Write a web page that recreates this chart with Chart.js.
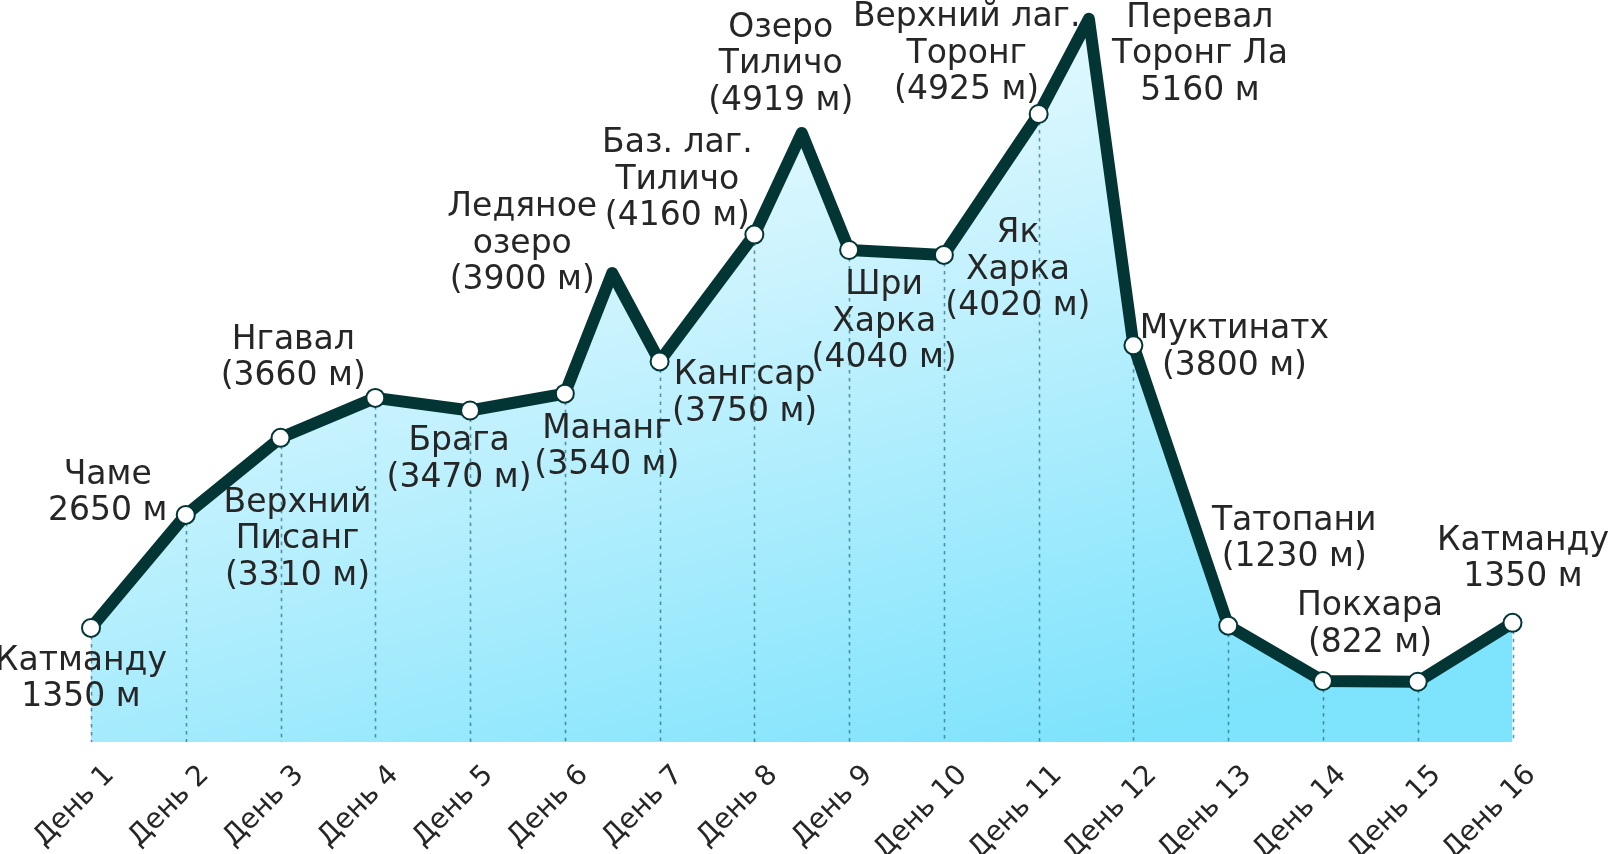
<!DOCTYPE html>
<html>
<head>
<meta charset="utf-8">
<script src="https://cdn.jsdelivr.net/npm/chart.js@4.4.1/dist/chart.umd.min.js"></script>
<style>
html,body{margin:0;padding:0;background:#ffffff;}
#wrap{width:1608px;height:854px;position:relative;}
</style>
</head>
<body>
<div id="wrap"><canvas id="c"></canvas></div>
<script>
// ---- data ----
const dayTicks = ['День 1','День 2','День 3','День 4','День 5','День 6','День 7','День 8',
                  'День 9','День 10','День 11','День 12','День 13','День 14','День 15','День 16'];
// trek stops (days, with intermediate side-trip / pass peaks between days)
const stopDay = [1, 2, 3, 4, 5, 6, 6.5, 7, 8, 8.5, 9, 10, 11, 11.53, 12, 13, 14, 15, 16];
// drawn profile height of each stop (schematic, metres)
const profileHeight = [814, 1620, 2170, 2455, 2365, 2485, 3345, 2715, 3620, 4345, 3510, 3475, 4480, 5160, 2830, 830, 435, 430, 850];
// place labels of each stop (null = no label)
const placeNames = [
  ['Катманду', '1350 м'],
  ['Чаме', '2650 м'],
  ['Верхний', 'Писанг', '(3310 м)'],
  ['Нгавал', '(3660 м)'],
  ['Брага', '(3470 м)'],
  ['Мананг', '(3540 м)'],
  ['Ледяное', 'озеро', '(3900 м)'],
  ['Кангсар', '(3750 м)'],
  ['Баз. лаг.', 'Тиличо', '(4160 м)'],
  ['Озеро', 'Тиличо', '(4919 м)'],
  ['Шри', 'Харка', '(4040 м)'],
  ['Як', 'Харка', '(4020 м)'],
  ['Верхний лаг.', 'Торонг', '(4925 м)'],
  ['Перевал', 'Торонг Ла', '5160 м'],
  ['Муктинатх', '(3800 м)'],
  ['Татопани', '(1230 м)'],
  ['Покхара', '(822 м)'],
  null,
  ['Катманду', '1350 м']
];
// ---- label placement (offset of label centre / first baseline from its point) ----
const labelPlacement = [
  [-10, 42], [-78, -31], [17, 74], [-82, -49], [-11, 40], [42, 44], [-90, -57],
  [85, 23], [-77, -82.5], [-21, -96], [35, 44.5], [74, -12.5], [-72, -88],
  [111, 8], [101, -7], [66, -96], [47, -66], null, [10.5, -73]
];

const FONT = '"DejaVu Sans", "Noto Sans", sans-serif';
const LINE_COLOR = '#033535';
const TEXT_COLOR = '#262626';

Chart.defaults.font.family = FONT;

const points = stopDay.map((d, i) => ({ x: d, y: profileHeight[i] }));

function fillGradient(context) {
  const chart = context.chart;
  const a = chart.chartArea;
  if (!a) return '#b0eefd';
  const w = a.right - a.left, h = a.bottom - a.top;
  const g = chart.ctx.createLinearGradient(a.left + 0.358 * w, a.top + 0.1935 * h,
                                           a.left + 0.488 * w, a.top + 1.121 * h);
  g.addColorStop(0, '#e2f8fe');
  g.addColorStop(1, '#7ee3fc');
  return g;
}

const dropLines = {
  id: 'dropLines',
  beforeDatasetDraw(chart, args) {
    if (args.index !== 0) return;
    const ctx = chart.ctx;
    const meta = chart.getDatasetMeta(0);
    const bottom = chart.chartArea.bottom;
    ctx.save();
    ctx.strokeStyle = 'rgba(45,115,135,0.75)';
    ctx.lineWidth = 1.6;
    ctx.setLineDash([3.5, 4.5]);
    meta.data.forEach((pt, i) => {
      if (!Number.isInteger(stopDay[i])) return;
      ctx.beginPath();
      ctx.moveTo(Math.round(pt.x) + 0.5, pt.y);
      ctx.lineTo(Math.round(pt.x) + 0.5, bottom);
      ctx.stroke();
    });
    ctx.restore();
  }
};

const placeLabels = {
  id: 'placeLabels',
  afterDatasetsDraw(chart) {
    const ctx = chart.ctx;
    const meta = chart.getDatasetMeta(0);
    ctx.save();
    ctx.font = '33px ' + FONT;
    ctx.fillStyle = TEXT_COLOR;
    ctx.textAlign = 'center';
    ctx.textBaseline = 'alphabetic';
    placeNames.forEach((lines, i) => {
      if (!lines) return;
      const pt = meta.data[i];
      const [dx, dy] = labelPlacement[i];
      lines.forEach((t, k) => {
        ctx.fillText(t, pt.x + dx, pt.y + dy + k * 36.5);
      });
    });
    ctx.restore();
  }
};

new Chart(document.getElementById('c'), {
  type: 'line',
  data: {
    datasets: [{
      data: points,
      borderColor: LINE_COLOR,
      borderWidth: 12,
      borderJoinStyle: 'round',
      borderCapStyle: 'round',
      tension: 0,
      fill: 'origin',
      backgroundColor: fillGradient,
      pointRadius: (c) => Number.isInteger(stopDay[c.dataIndex]) ? 9 : 0,
      pointHoverRadius: (c) => Number.isInteger(stopDay[c.dataIndex]) ? 9 : 0,
      pointBackgroundColor: '#ffffff',
      pointBorderColor: LINE_COLOR,
      pointBorderWidth: 2,
      clip: false
    }]
  },
  options: {
    responsive: true,
    maintainAspectRatio: false,
    animation: false,
    events: [],
    layout: { padding: { left: 91, right: 95.5, top: 0, bottom: 0 } },
    plugins: { legend: { display: false }, tooltip: { enabled: false } },
    scales: {
      x: {
        type: 'linear',
        min: 1, max: 16,
        grid: { display: false, drawTicks: false },
        border: { display: false },
        afterFit(scale) { scale.height = 112; scale.paddingLeft = 0; scale.paddingRight = 0; },
        afterBuildTicks(scale) { scale.ticks = dayTicks.map((_, i) => ({ value: i + 1 })); },
        ticks: {
          autoSkip: false,
          stepSize: 1,
          minRotation: 45,
          maxRotation: 45,
          padding: 17,
          labelOffset: 19,
          color: TEXT_COLOR,
          font: { size: 28, family: FONT },
          callback: (v) => dayTicks[Math.round(v) - 1]
        }
      },
      y: {
        display: false,
        min: 0, max: 5215
      }
    }
  },
  plugins: [dropLines, placeLabels]
});
</script>
</body>
</html>
